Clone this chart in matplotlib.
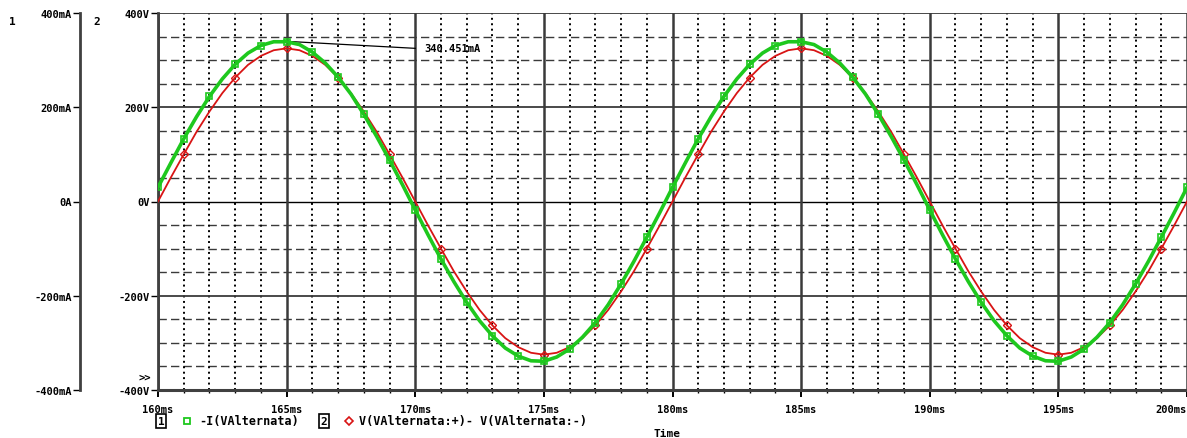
import numpy as np
import matplotlib
matplotlib.use("Agg")
import matplotlib.pyplot as plt
from matplotlib.lines import Line2D
from matplotlib.font_manager import FontProperties

# ---------------------------------------------------------------------------
# Data read off the probe window (sampled every 0.5 ms, 160..200 ms)
# ---------------------------------------------------------------------------
t_ms = np.arange(160.0, 200.01, 0.5)

# -I(VAlternata) in mA
i_ma = [30, 82, 133, 180, 223, 260, 291, 315, 331, 339,
        339, 333, 317, 294, 264, 228, 185, 138, 88, 36,
        -18, -71, -122, -170, -214, -253, -285, -311, -328, -338,
        -339, -330, -313, -288, -257, -219, -175, -127, -76, -24,
        30, 82, 133, 180, 223, 260, 291, 315, 331, 339,
        339, 333, 317, 294, 264, 228, 185, 138, 88, 36,
        -18, -71, -122, -170, -214, -253, -285, -311, -328, -338,
        -339, -330, -313, -288, -257, -219, -175, -127, -76, -24,
        30]

# V(VAlternata:+) - V(VAlternata:-) in V
v_v = [0, 51, 100, 148, 191, 230, 263, 290, 309, 321,
       325, 321, 309, 290, 263, 230, 191, 148, 100, 51,
       0, -51, -100, -148, -191, -230, -263, -290, -309, -321,
       -325, -321, -309, -290, -263, -230, -191, -148, -100, -51,
       0, 51, 100, 148, 191, 230, 263, 290, 309, 321,
       325, 321, 309, 290, 263, 230, 191, 148, 100, 51,
       0, -51, -100, -148, -191, -230, -263, -290, -309, -321,
       -325, -321, -309, -290, -263, -230, -191, -148, -100, -51,
       0]

x_ticks = [160, 165, 170, 175, 180, 185, 190, 195, 200]
x_labels = ["160ms", "165ms", "170ms", "175ms", "180ms", "185ms", "190ms", "195ms", "200ms"]
y_ticks = [-400, -200, 0, 200, 400]
v_labels = ["-400V", "-200V", "0V", "200V", "400V"]
i_labels = ["-400mA", "-200mA", "0A", "200mA", "400mA"]

cursor_t, cursor_i = 164.8, 340.451          # cursor point on the current peak
cursor_text_t, cursor_text_i = 170.0, 325    # where the readout sits
cursor_label = "340.451mA"

GREEN = "#1ec81e"
RED = "#d81414"
GRID = "#3a3a3a"
FONT = dict(family="DejaVu Sans Mono", weight="bold")
TICKFONT = FontProperties(family="DejaVu Sans Mono", weight="bold", size=7.5)

W, H = 1187, 439
fig = plt.figure(figsize=(W / 100, H / 100), dpi=100)
ax = fig.add_axes([158 / W, (H - 391) / H, 1029 / W, 377 / H])

# ---------------------------------------------------------------------------
# Grid: solid major, dashed horizontal minor, dotted vertical minor
# ---------------------------------------------------------------------------
for y in np.arange(-350, 400, 50):
    if y % 200:
        ax.axhline(y, color=GRID, lw=1.0, ls=(0, (6, 3)), zorder=1)
for x in range(161, 200):
    if x % 5:
        ax.axvline(x, color="black", lw=1.4, ls=(0, (1, 1.8)), zorder=1)
for y in y_ticks:
    ax.axhline(y, color="black" if y == 0 else GRID, lw=1.0 if y == 0 else 1.3, zorder=1)
for x in x_ticks:
    ax.axvline(x, color=GRID, lw=1.8, zorder=1)

ax.set_xlim(160, 200)
ax.set_ylim(-400, 400)

# voltage on the inner scale
ax.plot(t_ms, v_v, color=RED, lw=1.3, marker="D", ms=4, mfc="none", mec=RED,
        mew=1.0, markevery=(2, 4), zorder=3)

# current on its own outer scale
axi = ax.twinx()
axi.set_ylim(-400, 400)
axi.plot(t_ms, i_ma, color=GREEN, lw=2.6, marker="s", ms=5, mfc="none", mec=GREEN,
         mew=1.2, markevery=2, zorder=4)
axi.plot([cursor_t, cursor_text_t], [cursor_i, cursor_text_i], color="black", lw=0.9)
axi.text(cursor_text_t + 0.35, cursor_text_i, cursor_label, fontsize=7.5,
         va="center", ha="left", **FONT)

axi.spines["right"].set_visible(False)
axi.spines["top"].set_visible(False)
axi.spines["bottom"].set_visible(False)
axi.spines["left"].set_visible(True)
axi.spines["left"].set_position(("outward", 78 * 72 / 100))
axi.spines["left"].set_linewidth(2.0)
axi.spines["left"].set_color("#404040")
axi.yaxis.tick_left()
axi.set_yticks(y_ticks)
axi.set_yticklabels(i_labels)
axi.tick_params(axis="y", length=5, width=1.0, pad=1)
for lab in axi.get_yticklabels():
    lab.set_fontproperties(TICKFONT)

# main axes frame and ticks
for side in ["top", "right"]:
    ax.spines[side].set_visible(False)
ax.spines["left"].set_linewidth(2.0)
ax.spines["left"].set_color("#404040")
ax.spines["bottom"].set_linewidth(2.2)
ax.spines["bottom"].set_color("#404040")
ax.set_yticks(y_ticks)
ax.set_yticklabels(v_labels)
ax.set_xticks(x_ticks)
ax.set_xticklabels(x_labels)
ax.set_xticks(range(160, 201), minor=True)
ax.tick_params(axis="y", length=5, width=1.0, pad=1)
ax.tick_params(axis="x", which="major", length=5, width=1.4, pad=5)
ax.tick_params(axis="x", which="minor", length=2, width=1.0)
for lab in ax.get_xticklabels() + ax.get_yticklabels():
    lab.set_fontproperties(TICKFONT)
ax.get_xticklabels()[-1].set_horizontalalignment("right")

# axis ids, selection mark, legend, x title
fig.text(12 / W, 1 - 22 / H, "1", fontsize=8, ha="center", va="center", **FONT)
fig.text(97 / W, 1 - 22 / H, "2", fontsize=8, ha="center", va="center", **FONT)
fig.text(145 / W, 1 - 378 / H, ">>", fontsize=7.5, ha="center", va="center", **FONT)

box = dict(boxstyle="square,pad=0.15", fc="none", ec="black", lw=1.2)
fig.text(161 / W, 1 - 422 / H, "1", fontsize=8, ha="center", va="center", bbox=box, **FONT)
fig.add_artist(Line2D([187 / W], [1 - 422 / H], transform=fig.transFigure, marker="s",
                      ms=5, mfc="none", mec=GREEN, mew=1.3, ls="none"))
fig.text(199 / W, 1 - 422 / H, "-I(VAlternata)", fontsize=8.5, ha="left", va="center", **FONT)
fig.text(324 / W, 1 - 422 / H, "2", fontsize=8, ha="center", va="center", bbox=box, **FONT)
fig.add_artist(Line2D([349 / W], [1 - 422 / H], transform=fig.transFigure, marker="D",
                      ms=4, mfc="none", mec=RED, mew=1.2, ls="none"))
fig.text(359 / W, 1 - 422 / H, "V(VAlternata:+)- V(VAlternata:-)", fontsize=8.5,
         ha="left", va="center", **FONT)
fig.text(667 / W, 1 - 434 / H, "Time", fontsize=8, ha="center", va="center", **FONT)

fig.savefig("out.png", dpi=100)
plt.close(fig)
